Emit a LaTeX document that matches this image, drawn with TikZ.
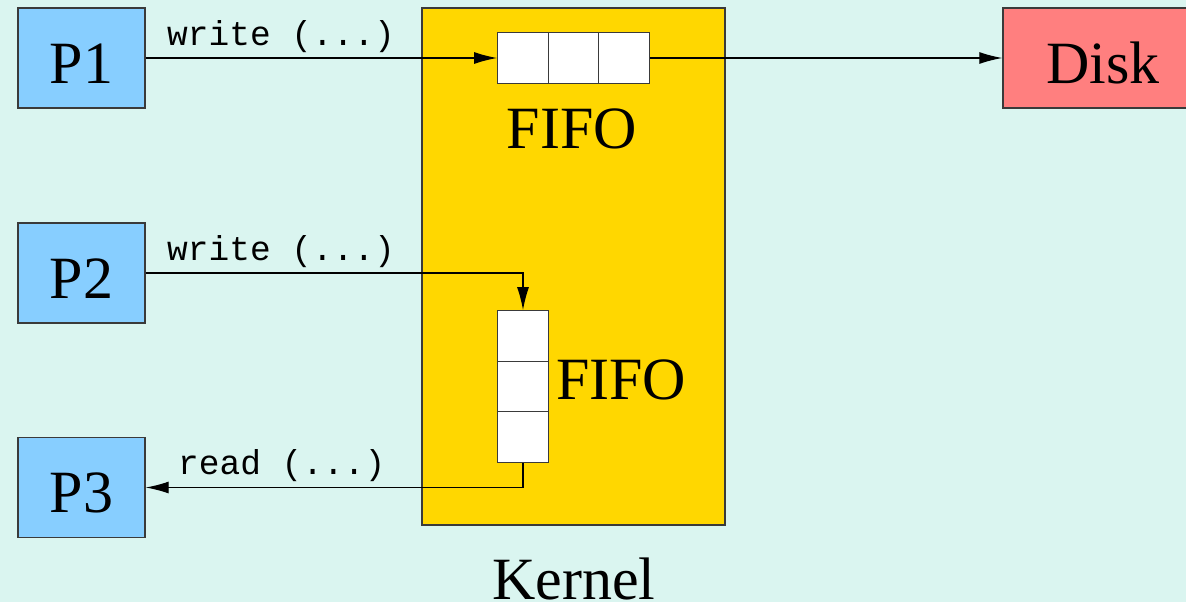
\documentclass[tikz,border=0pt]{standalone}
\usepackage{fontspec}
\setmainfont{Liberation Serif}
\setmonofont{Liberation Mono}
\usetikzlibrary{arrows.meta}
\definecolor{bgc}{HTML}{DAF5F0}
\definecolor{procc}{HTML}{87CEFF}
\definecolor{kernc}{HTML}{FFD700}
\definecolor{diskc}{HTML}{FF7F7F}
\definecolor{edgec}{HTML}{3A3A3A}
\begin{document}
\begin{tikzpicture}[x=1pt,y=-1pt,
  box/.style={draw=edgec,line width=1.4pt,inner sep=0pt,text height=50pt,text depth=0pt,font=\fontsize{60}{60}\selectfont},
  proc/.style={box,fill=procc,minimum width=127pt,minimum height=100pt},
  cell/.style={draw=edgec,line width=1.3pt,fill=white,minimum width=50.5pt,minimum height=50.5pt,inner sep=0pt},
  big/.style={font=\fontsize{60}{60}\selectfont,inner sep=0pt},
  call/.style={font=\ttfamily\fontsize{34.5}{34.5}\selectfont,inner sep=0pt},
  arr/.style={line width=1.2pt,-{Latex[length=23pt,width=12pt]}}]
\useasboundingbox (0,0) rectangle (1186,602);
\fill[bgc] (0,0) rectangle (1186,602);
\node[draw=edgec,line width=1.4pt,inner sep=0pt,fill=kernc,minimum width=303pt,minimum height=517pt] (kern) at (573.5,266.5) {};
\node[proc] (p1) at (81.5,58) {P1};
\node[proc] (p2) at (81.5,273) {P2};
\node[proc] (p3) at (81.5,487.5) {P3};
\node[box,fill=diskc,minimum width=200pt,minimum height=100pt] (disk) at (1103,58) {Disk};
\node[cell] (f1a) at (523,58) {};
\node[cell] (f1b) at (573.5,58) {};
\node[cell] (f1c) at (624,58) {};
\node[cell] (v1) at (523,336) {};
\node[cell] (v2) at (523,386.5) {};
\node[cell] (v3) at (523,437) {};
\node[big,anchor=base] (fifo1) at (572,148) {FIFO};
\node[big,anchor=base west] (fifo2) at (556,399) {FIFO};
\node[big,anchor=base] (kl) at (574,599) {Kernel};
\draw[arr] (p1.east) -- (f1a.west);
\draw[arr] (f1c.east) -- (disk.west);
\draw[arr] (p2.east) -| (v1.north);
\draw[arr] (v3.south) |- (p3.east);
\node[call,anchor=base west] (w1) at (167,46) {write (...)};
\node[call,anchor=base west] (w2) at (167,260) {write (...)};
\node[call,anchor=base west] (r3) at (178,474) {read (...)};
\end{tikzpicture}
\end{document}
